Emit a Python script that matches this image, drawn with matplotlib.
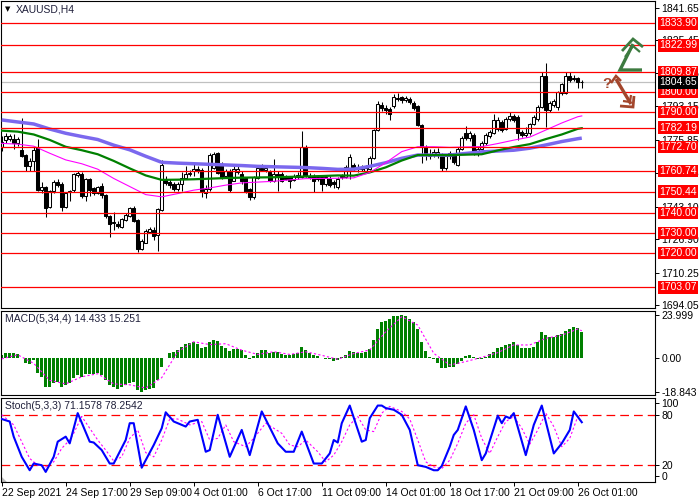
import matplotlib
matplotlib.use('Agg')
import matplotlib.pyplot as plt
from matplotlib.lines import Line2D
from matplotlib.patches import Polygon
from matplotlib.transforms import blended_transform_factory

# ---- candles (H4 bars, 22 Sep - 26 Oct 2021) ----
opens = [1772.5, 1776.3, 1776.6, 1776.6, 1774.6, 1771.3, 1768.4, 1763.4, 1765.6, 1772.7,
         1751.2, 1752.8, 1742.9, 1750.7, 1755.3, 1754.5, 1742.9, 1750.2, 1751.2, 1758.6,
         1759.4, 1748.5, 1756.5, 1752.3, 1749.9, 1753.5, 1749.0, 1738.6, 1735.0, 1734.6,
         1733.0, 1736.3, 1738.4, 1742.2, 1736.4, 1721.9, 1725.2, 1730.7, 1731.3, 1728.8,
         1741.2, 1756.1, 1755.4, 1754.4, 1751.9, 1754.4, 1757.1, 1759.0, 1760.7, 1761.9,
         1761.0, 1750.0, 1751.6, 1762.4, 1769.5, 1764.0, 1758.2, 1760.7, 1755.9, 1760.0,
         1759.2, 1757.0, 1751.7, 1747.6, 1757.2, 1762.0, 1761.3, 1760.0, 1755.9, 1759.2,
         1759.2, 1757.5, 1757.5, 1756.3, 1757.5, 1757.5, 1772.4, 1758.3, 1758.3, 1757.5,
         1757.5, 1754.2, 1756.7, 1755.0, 1752.9, 1757.5, 1757.5, 1761.1, 1763.5, 1761.5,
         1762.5, 1760.8, 1761.6, 1767.1, 1781.0, 1793.5, 1792.0, 1791.5, 1792.9, 1797.0,
         1797.2, 1796.0, 1796.5, 1794.5, 1793.0, 1783.5, 1772.7, 1769.0, 1768.5, 1768.7,
         1768.7, 1762.1, 1768.0, 1768.5, 1763.6, 1771.8, 1779.4, 1776.9, 1778.6, 1769.5,
         1771.5, 1774.4, 1778.0, 1779.4, 1781.5, 1785.1, 1781.5, 1786.5, 1788.0, 1787.6,
         1779.8, 1778.4, 1779.4, 1784.0, 1786.3, 1792.6, 1807.8, 1790.9, 1793.5, 1792.3,
         1799.2, 1799.5, 1807.8, 1806.5, 1807.0, 1805.0]
closes = [1775.0, 1778.0, 1778.0, 1774.6, 1776.6, 1768.0, 1763.4, 1765.6, 1771.3, 1751.2,
          1752.8, 1742.3, 1750.7, 1755.3, 1754.0, 1742.9, 1749.9, 1750.7, 1759.0, 1759.8,
          1748.2, 1756.5, 1751.5, 1749.9, 1752.8, 1748.7, 1738.3, 1734.2, 1735.5, 1733.5,
          1736.8, 1738.9, 1742.2, 1735.9, 1721.9, 1726.0, 1731.0, 1731.8, 1728.5, 1741.7,
          1763.5, 1754.9, 1753.8, 1751.6, 1754.4, 1757.1, 1759.0, 1759.9, 1761.9, 1760.7,
          1750.8, 1751.6, 1768.6, 1769.0, 1759.9, 1757.4, 1760.7, 1751.2, 1761.6, 1761.6,
          1755.9, 1750.4, 1747.6, 1757.5, 1762.0, 1761.3, 1762.1, 1755.9, 1759.2, 1758.4,
          1755.9, 1756.7, 1755.9, 1758.3, 1758.8, 1772.4, 1758.3, 1757.5, 1755.9, 1756.7,
          1754.2, 1757.5, 1753.7, 1754.2, 1756.7, 1758.3, 1762.5, 1767.7, 1761.5, 1762.5,
          1761.8, 1762.1, 1767.1, 1781.0, 1794.0, 1792.0, 1791.0, 1789.0, 1797.4, 1796.5,
          1795.8, 1796.8, 1795.0, 1791.7, 1783.5, 1772.7, 1769.0, 1768.0, 1770.0, 1770.2,
          1762.1, 1768.0, 1769.5, 1765.0, 1771.8, 1777.3, 1776.9, 1779.4, 1769.5, 1771.5,
          1774.5, 1778.6, 1780.0, 1786.0, 1786.0, 1781.0, 1786.5, 1788.0, 1786.0, 1779.4,
          1778.4, 1779.5, 1784.0, 1787.5, 1792.6, 1807.8, 1790.9, 1794.3, 1795.5, 1800.0,
          1803.8, 1807.8, 1805.8, 1807.0, 1805.0, 1804.65]
highs = [1778.0, 1779.6, 1779.0, 1778.8, 1777.5, 1787.0, 1769.0, 1767.2, 1772.7, 1776.6,
         1755.3, 1753.5, 1751.5, 1756.0, 1756.5, 1755.0, 1750.5, 1751.5, 1759.5, 1760.6,
         1760.0, 1757.0, 1757.0, 1753.0, 1753.5, 1754.8, 1749.5, 1739.0, 1740.3, 1736.0,
         1737.5, 1740.0, 1743.0, 1743.4, 1736.8, 1727.0, 1732.0, 1733.0, 1733.0, 1742.5,
         1766.0, 1758.2, 1756.5, 1755.0, 1755.0, 1760.0, 1763.2, 1761.0, 1764.8, 1763.0,
         1762.0, 1754.0, 1769.8, 1770.0, 1770.3, 1765.0, 1761.5, 1761.5, 1763.3, 1763.3,
         1760.5, 1757.5, 1752.5, 1758.3, 1763.0, 1764.4, 1763.0, 1761.0, 1766.6, 1760.8,
         1760.0, 1758.5, 1758.3, 1759.0, 1760.0, 1780.6, 1773.5, 1759.5, 1759.0, 1758.5,
         1758.5, 1758.5, 1758.0, 1756.0, 1757.5, 1759.0, 1763.5, 1769.0, 1764.5, 1764.0,
         1763.5, 1763.5, 1768.0, 1781.5, 1795.5, 1795.0, 1793.5, 1792.5, 1799.0, 1799.5,
         1798.0, 1798.0, 1797.5, 1795.5, 1793.5, 1784.0, 1773.5, 1771.5, 1771.5, 1772.0,
         1769.5, 1769.0, 1770.5, 1769.5, 1772.5, 1778.0, 1783.0, 1780.5, 1779.5, 1772.5,
         1775.5, 1779.5, 1781.0, 1789.0, 1787.5, 1786.0, 1787.5, 1789.9, 1789.0, 1788.5,
         1781.0, 1782.5, 1784.5, 1788.5, 1793.5, 1809.9, 1814.0, 1795.5, 1796.5, 1800.5,
         1804.5, 1809.9, 1809.9, 1808.5, 1807.5, 1806.0]
lows = [1770.5, 1774.6, 1775.5, 1771.7, 1773.0, 1767.5, 1760.9, 1760.6, 1760.6, 1751.0,
        1749.8, 1738.0, 1742.5, 1750.0, 1753.0, 1740.8, 1742.5, 1745.7, 1750.5, 1757.5,
        1747.5, 1745.7, 1748.2, 1749.0, 1749.5, 1747.3, 1737.5, 1728.0, 1731.7, 1732.5,
        1732.5, 1736.0, 1738.0, 1735.5, 1720.7, 1721.5, 1725.0, 1730.0, 1726.5, 1721.1,
        1741.0, 1754.0, 1752.5, 1751.0, 1751.0, 1750.8, 1756.5, 1758.0, 1758.2, 1759.5,
        1747.8, 1747.3, 1751.0, 1761.5, 1759.0, 1756.5, 1757.5, 1750.5, 1755.5, 1759.0,
        1754.2, 1750.0, 1746.3, 1747.0, 1756.5, 1760.5, 1760.0, 1755.0, 1755.0, 1750.9,
        1755.0, 1756.0, 1752.5, 1755.5, 1756.5, 1757.0, 1757.5, 1756.5, 1750.4, 1755.5,
        1751.0, 1753.5, 1753.0, 1752.5, 1752.0, 1756.5, 1757.0, 1756.7, 1760.5, 1760.0,
        1760.5, 1760.0, 1761.0, 1766.5, 1780.5, 1790.5, 1789.0, 1786.0, 1792.0, 1795.5,
        1794.5, 1795.0, 1794.0, 1791.0, 1783.0, 1764.7, 1766.0, 1766.5, 1767.5, 1767.0,
        1760.5, 1761.0, 1766.5, 1764.0, 1763.0, 1771.0, 1776.0, 1775.5, 1768.5, 1768.0,
        1771.0, 1773.5, 1777.0, 1779.0, 1780.5, 1780.0, 1781.0, 1785.5, 1785.0, 1776.0,
        1777.5, 1777.5, 1778.5, 1783.5, 1785.5, 1792.0, 1782.7, 1790.0, 1792.5, 1791.0,
        1798.5, 1799.0, 1805.0, 1805.5, 1802.0, 1802.0]

# ---- moving averages, read every 4 bars ----
ma_idx = [0, 4, 8, 12, 16, 20, 24, 28, 32, 36, 40, 44, 48, 52, 56, 60, 64, 68, 72,
          76, 80, 84, 88, 92, 96, 100, 104, 108, 112, 116, 120, 124, 128, 132, 136,
          140, 144, 145]
ma_slow = [1786.0, 1785.0, 1784.0, 1781.5, 1779.4, 1777.8, 1776.3, 1773.5, 1771.2, 1768.0,
           1765.0, 1764.6, 1764.3, 1764.0, 1763.7, 1763.4, 1763.0, 1762.8, 1762.6, 1762.4,
           1762.0, 1761.5, 1761.6, 1763.0, 1764.8, 1767.0, 1768.6, 1768.6, 1768.6, 1769.4,
           1770.2, 1770.6, 1771.0, 1772.0, 1773.6, 1775.3, 1776.7, 1777.0]
ma_mid = [1780.7, 1780.2, 1778.8, 1776.1, 1772.7, 1771.0, 1769.0, 1765.7, 1762.0, 1758.5,
          1756.3, 1756.4, 1756.6, 1756.9, 1757.2, 1757.4, 1757.5, 1757.6, 1757.8, 1758.0,
          1758.2, 1758.5, 1758.4, 1760.0, 1762.5, 1765.9, 1768.6, 1768.6, 1768.6, 1768.8,
          1769.0, 1770.9, 1772.6, 1774.0, 1776.5, 1778.8, 1781.6, 1781.9]
ma_fast = [1774.4, 1774.0, 1773.0, 1769.5, 1766.2, 1764.3, 1761.6, 1757.0, 1753.0, 1749.0,
           1747.9, 1749.5, 1751.2, 1752.3, 1753.7, 1754.8, 1755.2, 1755.6, 1756.3, 1756.9,
           1757.0, 1757.1, 1757.3, 1760.0, 1764.8, 1770.3, 1772.7, 1772.7, 1772.4, 1772.6,
           1772.8, 1774.3, 1776.0, 1777.5, 1781.0, 1784.5, 1787.6, 1788.0]

# ---- horizontal levels ----
levels = [1833.90, 1822.99, 1809.87, 1800.00, 1790.00, 1782.19, 1772.70,
          1760.74, 1750.44, 1740.00, 1730.00, 1720.00, 1703.07]
bid = 1804.65
price_ticks = [1841.65, 1825.45, 1809.25, 1793.15, 1775.85, 1759.65,
               1743.10, 1726.90, 1710.25, 1694.05]

# ---- MACD(5,34,4) ----
macd_hist = [1.7, 2.6, 3.0, 2.6, 2.2, 0.0, -3.0, -3.3, -1.1, -8.2,
             -10.8, -16.0, -16.0, -14.1, -13.7, -16.0, -15.1, -14.1, -11.4, -9.4,
             -10.4, -9.0, -9.0, -9.0, -8.6, -9.4, -12.3, -15.1, -16.4, -17.5,
             -16.4, -15.1, -14.1, -13.7, -17.8, -18.8, -17.8, -17.5, -16.9, -12.3,
             -4.9, -0.2, 2.6, 3.5, 4.5, 6.3, 7.8, 8.6, 9.2, 7.8,
             5.4, 6.3, 9.2, 10.0, 9.6, 6.7, 5.4, 4.1, 4.9, 4.9,
             4.5, 1.7, -0.8, 1.1, 3.0, 4.5, 4.5, 3.0, 3.5, 3.2,
             2.2, 1.7, 1.7, 2.0, 2.6, 6.3, 4.5, 3.0, 1.7, 1.1,
             -0.2, -0.4, -0.8, -1.7, -1.1, 0.4, 1.7, 3.9, 3.2, 2.6,
             3.0, 3.5, 4.9, 10.0, 16.2, 20.2, 20.6, 21.8, 23.5, 23.7,
             24.0, 23.5, 21.8, 20.2, 16.5, 9.2, 3.9, 0.4, -0.8, -3.0,
             -5.4, -5.4, -5.2, -4.9, -3.5, -1.7, 1.1, 1.7, 0.4, -0.8,
             -0.4, 0.8, 2.0, 3.5, 5.4, 6.3, 7.2, 7.8, 8.8, 7.2,
             5.4, 5.4, 5.4, 5.9, 8.8, 14.3, 12.9, 11.9, 11.9, 12.9,
             13.2, 15.3, 16.5, 17.5, 16.9, 14.43]
macd_sig_idx = ma_idx
macd_sig = [-0.5, 1.8, -3.0, -12.5, -14.5, -10.5, -8.8, -14.5, -15.0, -16.8,
            -11.0, 3.5, 9.1, 7.5, 8.0, 4.4, 2.0, 3.5, 2.0, 3.5,
            1.5, -0.7, 2.5, 4.5, 14.7, 23.1, 18.4, 2.6, -3.9, -2.0,
            0.4, 3.0, 7.3, 7.3, 11.0, 12.8, 16.2, 15.25]

# ---- Stoch(5,3,3) ----
stoch_k_idx = [0, 2, 3, 5, 7, 8, 10, 11, 13, 14, 16, 17, 19, 22, 23, 25, 27, 28, 31, 32,
               33, 35, 38, 40, 41, 43, 46, 47, 49, 51, 52, 54, 57, 60, 62, 65, 69, 71, 73,
               75, 78, 80, 82, 83, 84, 85, 87, 90, 91, 92, 94, 95, 96, 98, 100, 102, 104,
               106, 108, 109, 110, 112, 113, 114, 116, 118, 120, 121, 124, 125, 126, 127,
               128, 131, 133, 135, 138, 140, 142, 143, 145]
stoch_k = [75, 72, 54, 30, 14, 22, 20, 12, 30, 48, 54, 46, 82, 48, 47, 38, 22, 22, 50, 70,
           70, 17, 44, 64, 83, 72, 66, 72, 74, 36, 38, 80, 30, 62, 32, 84, 46, 36, 36,
           60, 22, 22, 34, 50, 47, 70, 91, 48, 50, 76, 91, 91, 88, 86, 80, 62, 20,
           18, 14, 14, 19, 42, 56, 62, 90, 62, 26, 34, 79, 70, 78, 76,
           82, 32, 68, 91, 34, 46, 62, 84, 71.16]
stoch_d_idx = [0, 3, 5, 7, 9, 11, 13, 15, 17, 18, 20, 22, 24, 26, 28, 30, 32, 34, 36, 38,
               40, 42, 44, 47, 50, 52, 54, 56, 58, 61, 63, 66, 70, 72, 74, 76, 79, 81, 83,
               85, 87, 89, 91, 93, 95, 97, 100, 102, 104, 106, 108, 110, 112, 114, 116,
               118, 120, 122, 124, 126, 128, 130, 132, 134, 136, 138, 140, 142, 144, 145]
stoch_d = [80, 68, 48, 28, 20, 18, 24, 40, 50, 58, 78, 64, 50, 38, 25, 30, 52, 62, 35, 30,
           50, 75, 75, 68, 72, 50, 52, 68, 48, 42, 52, 70, 58, 44, 42, 50, 36, 24, 32,
           48, 68, 78, 62, 60, 82, 90, 84, 75, 50, 24, 18, 16, 26, 46, 70,
           80, 52, 34, 54, 72, 78, 64, 45, 62, 82, 66, 42, 52, 78, 78.25]

time_idx = [0, 16, 32, 48, 64, 80, 96, 112, 128, 144]
time_labels = ['22 Sep 2021', '24 Sep 17:00', '29 Sep 09:00', '4 Oct 01:00', '6 Oct 17:00',
               '11 Oct 09:00', '14 Oct 01:00', '18 Oct 17:00', '21 Oct 09:00', '26 Oct 01:00']

W, H = 700, 500
FS = 7.5
plt.rcParams['font.family'] = ['Liberation Sans', 'DejaVu Sans']
fig = plt.figure(figsize=(7, 5), dpi=100)
fig.patch.set_facecolor('white')


def rect(top, bottom):
    return [1 / W, 1 - bottom / H, 654 / W, (bottom - top) / H]


ax = fig.add_axes(rect(1, 308))
ax2 = fig.add_axes(rect(311, 395))
ax3 = fig.add_axes(rect(398, 482))

xlim = (-0.175, 163.3)
for a in (ax, ax2, ax3):
    a.set_xlim(*xlim)
    a.set_facecolor('white')
    for s in a.spines.values():
        s.set_color('black')
        s.set_linewidth(0.8)
    a.yaxis.tick_right()
    a.tick_params(axis='y', direction='out', length=3, width=0.7, pad=1.5,
                  labelsize=FS, colors='black')
    a.tick_params(axis='x', bottom=False, labelbottom=False)

# main price panel
ax.set_ylim(1692.8, 1844.95)
n = len(closes)
for i in range(n):
    o, c = opens[i], closes[i]
    lo = min(lows[i], o, c)
    hi = max(highs[i], o, c)
    ax.vlines(i, lo, hi, color='black', lw=0.75, zorder=2)
    h = max(abs(c - o), 0.35)
    fc = 'white' if c >= o else 'black'
    ax.bar(i, h, bottom=min(o, c), width=0.72, facecolor=fc, edgecolor='black',
           linewidth=0.75, zorder=2.1)

ax.plot(ma_idx, ma_slow, color='#7B68EE', lw=2.5, zorder=3, solid_capstyle='butt')
ax.plot(ma_idx, ma_mid, color='#008000', lw=1.6, zorder=3.1)
ax.plot(ma_idx, ma_fast, color='#FF00FF', lw=0.8, zorder=3.2)

for lv in levels:
    ax.axhline(lv, color='#FF0000', lw=0.9, zorder=4)
ax.axhline(bid, color='#C0C0C0', lw=0.9, zorder=1)

ax.set_yticks(price_ticks)
ax.set_yticklabels([f'{v:.2f}' for v in price_ticks])

trans = blended_transform_factory(ax.transAxes, ax.transData)
for lv in levels:
    ax.text(1.0066, lv, f'{lv:.2f}', transform=trans, ha='left', va='center',
            fontsize=FS, color='white', zorder=10, clip_on=False,
            bbox=dict(boxstyle='square,pad=0.12', fc='#FF0000', ec='none'))
ax.text(1.0066, bid, f'{bid:.2f}', transform=trans, ha='left', va='center',
        fontsize=FS, color='white', zorder=10, clip_on=False,
        bbox=dict(boxstyle='square,pad=0.12', fc='black', ec='none'))

fig.text(5 / W, 1 - 9 / H, '\u25bc', fontsize=5, color='black', va='center',
         family='DejaVu Sans')
fig.text(16 / W, 1 - 9 / H, 'XAUUSD,H4', fontsize=FS, color='#1f1f3a', va='center')

# MACD panel
ax2.set_ylim(-20.7, 26.3)
ax2.bar(range(n), macd_hist, width=0.75, color='#008000', zorder=2)
ax2.plot(macd_sig_idx, macd_sig, color='#FF00FF', lw=0.8, linestyle=(0, (2, 2)), zorder=3)
ax2.set_yticks([23.999, 0.0, -18.843])
ax2.set_yticklabels(['23.999', '0.00', '-18.843'])
ax2.text(4 / 654, 0.9, 'MACD(5,34,4) 14.433 15.251', transform=ax2.transAxes,
         fontsize=FS, color='#1f1f3a', va='center', ha='left')

# Stochastic panel
ax3.set_ylim(0, 100)
ax3.axhline(80, color='#FF0000', lw=0.9, dashes=(7, 4))
ax3.axhline(20, color='#FF0000', lw=0.9, dashes=(7, 4))
ax3.plot(stoch_d_idx, stoch_d, color='#FF00FF', lw=0.8, linestyle=(0, (2, 2)), zorder=3)
ax3.plot(stoch_k_idx, stoch_k, color='#0000FF', lw=1.5, zorder=4)
ax3.set_yticks([93.5, 80, 20, 7.5])
ax3.set_yticklabels(['100', '80', '20', '0'])
ax3.text(4 / 654, 0.9, 'Stoch(5,3,3) 71.1578 78.2542', transform=ax3.transAxes,
         fontsize=FS, color='#1f1f3a', va='center', ha='left')
ax3.add_patch(Polygon([[0, 0], [0.009, 0], [0, 0.07]], closed=True,
                      transform=ax3.transAxes, fc='#BBBBBB', ec='none'))

ax3.tick_params(axis='x', bottom=True, labelbottom=True, direction='out', length=3,
                width=0.7, pad=1.5, labelsize=FS, colors='black')
ax3.set_xticks(time_idx)
ax3.set_xticklabels(time_labels)
for lbl in ax3.get_xticklabels():
    lbl.set_ha('left')


# hand-drawn signal glyphs on the right of the price panel (figure pixels)
def glyph(pts, color, lw):
    xs = [p[0] / W for p in pts]
    ys = [1 - p[1] / H for p in pts]
    fig.add_artist(Line2D(xs, ys, transform=fig.transFigure, color=color, lw=lw,
                          solid_capstyle='butt', solid_joinstyle='miter'))


green = '#3d7b40'
glyph([(642, 70), (620, 70), (633, 44)], green, 2.4)
glyph([(622, 51), (633, 39), (643, 47)], green, 2.0)
glyph([(625, 57), (633, 46), (640, 52)], green, 1.6)

brown = '#a3462c'
glyph([(616, 79), (631, 104)], brown, 2.4)
glyph([(620, 106), (633, 107), (634, 96)], brown, 2.0)
glyph([(623, 101), (630, 102), (631, 95)], brown, 1.6)
glyph([(611, 83), (616, 76), (621, 81)], brown, 1.8)
fig.text(607 / W, 1 - 84 / H, '?', fontsize=11, fontweight='bold', color=brown,
         ha='center', va='center')

fig.savefig('out.png', dpi=100, facecolor='white')
